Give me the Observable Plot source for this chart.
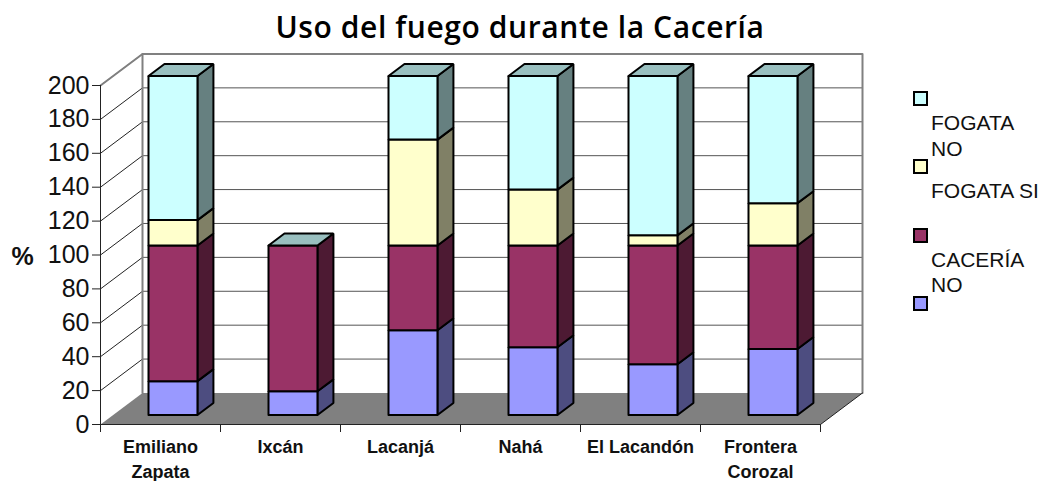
<!DOCTYPE html>
<html><head><meta charset="utf-8">
<script src="https://cdn.jsdelivr.net/npm/d3@7"></script>
<script src="https://cdn.jsdelivr.net/npm/@observablehq/plot@0.6"></script>
<style>
html,body{margin:0;padding:0;background:#fff;overflow:hidden}
#wrap{position:relative;width:1049px;height:481px;font-family:"Liberation Sans",Arial,sans-serif}
#title{height:50px;text-align:center;width:1040px;font:600 30px/53px "Open Sans","DejaVu Sans",sans-serif;letter-spacing:.6px;color:#000}
#legend{position:absolute;left:913px;top:91px;width:136px;font-size:21px;line-height:25.5px;color:#111}
.item{height:68.3px}
.sw{width:11px;height:11px;border:2px solid #000;display:block}
.tx{margin-left:18px;width:116px;margin-top:4px}
svg{display:block}
</style></head><body>
<div id="wrap"><div id="title"></div><div id="chart"></div><div id="legend"></div></div>
<script>
const titleText = "Uso del fuego durante la Cacería";
const categories = ["Emiliano\nZapata","Ixcán","Lacanjá","Nahá","El Lacandón","Frontera\nCorozal"];
const caceriaSi = [20,14,50,40,30,39];
const caceriaNo = [80,86,50,60,70,61];
const fogataSi  = [15,0,62.5,33,6,25];
const fogataNo  = [85,0,37.5,67,94,75];
const seriesNames = ["CACERÍA SI","CACERÍA NO","FOGATA SI","FOGATA NO"];
const seriesValues = [caceriaSi,caceriaNo,fogataSi,fogataNo];
const frontColors = ["#9999FF","#993366","#FFFFCC","#CCFFFF"];
const sideColors  = ["#4D4D80","#4D1A33","#808066","#668080"];
const topColor = "#99BFBF";
const legendLabels = ["FOGATA NO","FOGATA SI","CACERÍA NO",""];
const legendColors = ["#CCFFFF","#FFFFCC","#993366","#9999FF"];
const yTicks = d3.range(0,201,20);

// oblique projection of the depth axis, in scale units
const DX = 0.35, DY = 18.6, D0 = 0.3, D1 = 0.68, BAR0 = 0.295, BAR1 = 0.703;
const proj = (slot, value, depth) => ({x: slot + depth*DX, y: value + depth*DY});

const polys = [];
function poly(fill, pts){ const id = polys.length ? polys[polys.length-1].id+1 : 0;
  [...pts, pts[0]].forEach(p => polys.push({id, fill, ...p})); }

categories.forEach((c,i) => {
  let base = 0;
  const x0 = i+BAR0, x1 = i+BAR1;
  seriesValues.forEach((vals,s) => {
    const v = vals[i]; if (!v) return;
    const t = base+v;
    poly(sideColors[s],[proj(x1,base,D0),proj(x1,base,D1),proj(x1,t,D1),proj(x1,t,D0)]);
    poly(frontColors[s],[proj(x0,base,D0),proj(x1,base,D0),proj(x1,t,D0),proj(x0,t,D0)]);
    base = t;
  });
  poly(topColor,[proj(x0,base,D0),proj(x1,base,D0),proj(x1,base,D1),proj(x0,base,D1)]);
});

const floor = [proj(0,0,0),proj(6,0,0),proj(6,0,1),proj(0,0,1)].map(p=>({...p,id:0}));
const wallGrid = yTicks.slice(1,-1).map(v=>({v}));
const sideLines = yTicks.flatMap(v=>[{...proj(0,v,0),v},{...proj(0,v,1),v}]).filter(d=>d.v>0);
const wallFrame = [proj(0,200,0),proj(0,200,1),proj(6,200,1),proj(6,0,1)];
const wallLeft = [proj(0,200,1),proj(0,0,1)];
const floorRight = [proj(6,0,0),proj(6,0,1)];

const chart = Plot.plot({
  width:1049, height:431,
  marginLeft:100, marginRight:229, marginTop:35, marginBottom:57,
  x:{type:"linear",domain:[0,6],axis:null},
  y:{type:"linear",domain:[0,200],axis:null},
  color:{type:"identity"},
  style:{fontFamily:'"Liberation Sans",Arial,sans-serif',background:"#fff",overflow:"visible",color:"#000"},
  marks:[
    Plot.ruleY(wallGrid,{x1:proj(0,0,1).x,x2:proj(6,0,1).x,y:d=>proj(0,d.v,1).y,stroke:"#555",strokeWidth:1}),
    Plot.line(sideLines,{x:"x",y:"y",z:"v",stroke:"#222",strokeWidth:1}),
    Plot.line(wallFrame,{x:"x",y:"y",stroke:"#808080",strokeWidth:2}),
    Plot.line(wallLeft,{x:"x",y:"y",stroke:"#808080",strokeWidth:2}),
    Plot.line(floor,{x:"x",y:"y",z:"id",fill:"#808080",stroke:"none"}),
    Plot.line(floorRight,{x:"x",y:"y",stroke:"#222",strokeWidth:1}),
    Plot.ruleX([0],{y1:0,y2:200,stroke:"#222",strokeWidth:1}),
    Plot.ruleY([0],{x1:0,x2:6,stroke:"#222",strokeWidth:1}),
    Plot.axisY({ticks:yTicks,tickSize:8,tickPadding:3,fontSize:25,label:null,stroke:"#222",fill:"#111"}),
    Plot.axisX({ticks:d3.range(0,7),tickSize:8,tickFormat:()=>"",label:null,stroke:"#222"}),
    Plot.line(polys,{x:"x",y:"y",z:"id",fill:"fill",stroke:"#000",strokeWidth:2,strokeLinejoin:"miter"}),
    Plot.text(categories,{x:(d,i)=>i+0.5,y:()=>0,text:d=>d,lineAnchor:"top",dy:11,fontSize:18,fontWeight:"bold",lineHeight:1.38,fill:"#111"}),
    Plot.text(["%"],{x:()=>-0.65,y:()=>99,text:d=>d,fontSize:25,fontWeight:"bold",fill:"#111"})
  ]
});
document.getElementById("chart").appendChild(chart);
document.getElementById("title").textContent = titleText;
const lg = document.getElementById("legend");
legendLabels.forEach((t,i)=>{
  const it = document.createElement("div"); it.className="item";
  const sw = document.createElement("span"); sw.className="sw"; sw.style.background=legendColors[i];
  const tx = document.createElement("div"); tx.className="tx"; tx.textContent=t;
  it.append(sw,tx); lg.append(it);
});
</script></body></html>
